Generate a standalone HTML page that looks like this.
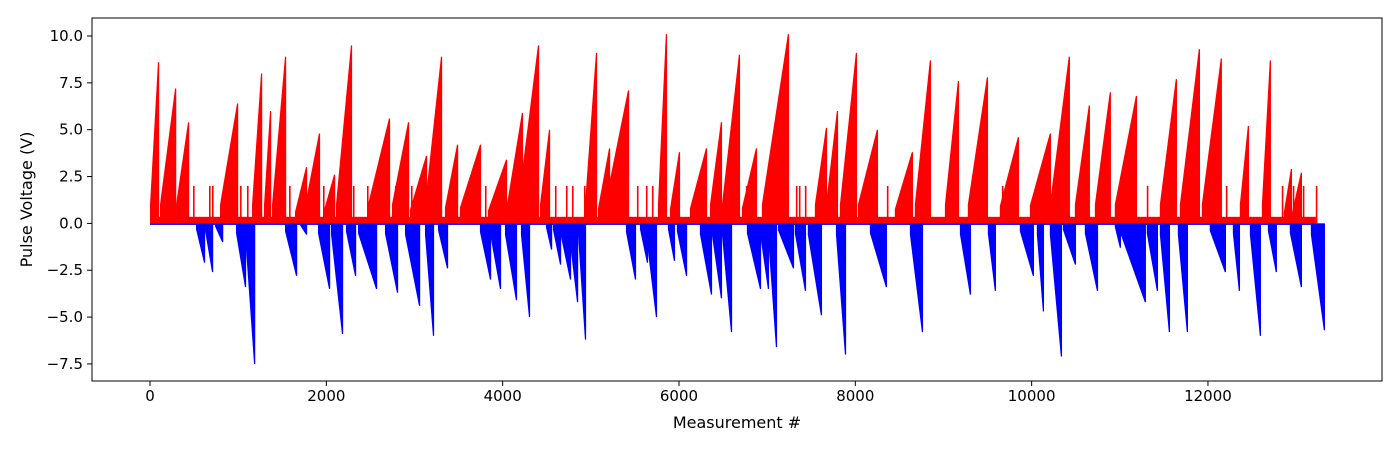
<!DOCTYPE html>
<html><head><meta charset="utf-8"><style>
html,body{margin:0;padding:0;background:#fff;}
svg text{font-family:"DejaVu Sans","Liberation Sans",sans-serif;fill:#000;}
</style></head><body>
<svg id="chart" width="1400" height="450" xmlns="http://www.w3.org/2000/svg">
<rect width="1400" height="450" fill="#fff"/>
<g id="marks"></g>
<g id="axes"></g>
</svg>
<script>
// ramps: [startMeasurement, endMeasurement, peakVoltage]
const posRamps=[[0,90,8.6],[113,284,7.2],[295,431,5.4],[794,987,6.4],[1157,1259,8.0],[1293,1361,6.0],[1384,1531,8.9],[1644,1769,3.0],[1758,1916,4.8],[1962,2087,2.6],[2109,2279,9.5],[2472,2710,5.6],[2744,2926,5.4],[2948,3130,3.6],[3119,3300,8.9],[3345,3482,4.2],[3515,3742,4.2],[3833,4037,3.4],[4048,4218,5.9],[4173,4400,9.5],[4423,4525,5.0],[4933,5058,9.1],[5081,5206,4.0],[5160,5421,7.1],[5761,5851,10.1],[5897,5999,3.8],[6124,6305,4.0],[6351,6475,5.4],[6487,6679,9.0],[6713,6872,4.0],[6940,7235,10.1],[7541,7666,5.1],[7666,7791,6.0],[7825,8006,9.1],[8029,8244,5.0],[8448,8641,3.8],[8675,8845,8.7],[9016,9163,7.6],[9276,9492,7.8],[9639,9843,4.6],[9980,10206,4.8],[10206,10421,8.9],[10490,10648,6.3],[10717,10886,7.0],[10943,11182,6.8],[11454,11635,7.7],[11681,11896,9.3],[11930,12145,8.8],[12361,12452,5.2],[12611,12701,8.7],[12860,12940,2.9],[12951,13053,2.7]];
const negRamps=[[522,612,-2.1],[624,703,-2.6],[737,817,-1.0],[975,1077,-3.4],[1077,1180,-7.5],[1531,1656,-2.8],[1701,1769,-0.6],[1905,2030,-3.5],[2053,2177,-5.9],[2222,2325,-2.8],[2359,2563,-3.5],[2665,2801,-3.7],[2892,3051,-4.4],[3119,3209,-6.0],[3266,3368,-2.4],[3742,3856,-3.0],[3856,3969,-3.5],[4026,4150,-4.1],[4207,4298,-5.0],[4491,4548,-1.4],[4570,4650,-2.2],[4650,4763,-3.0],[4752,4843,-4.2],[4854,4933,-6.2],[5398,5500,-3.0],[5557,5636,-2.1],[5625,5738,-5.0],[5874,5942,-2.0],[5976,6079,-2.8],[6237,6362,-3.8],[6373,6475,-4.0],[6487,6589,-5.8],[6770,6918,-3.5],[6918,7008,-3.5],[7008,7099,-6.6],[7122,7292,-2.4],[7314,7428,-3.6],[7461,7609,-4.9],[7780,7882,-7.0],[8165,8346,-3.4],[8619,8755,-5.8],[9186,9299,-3.8],[9503,9582,-3.6],[9866,10013,-2.8],[10059,10127,-4.7],[10206,10331,-7.1],[10354,10490,-2.2],[10603,10740,-3.6],[10943,11000,-1.3],[11011,11283,-4.2],[11306,11420,-3.6],[11454,11556,-5.8],[11658,11760,-5.8],[12020,12191,-2.6],[12282,12350,-3.6],[12475,12588,-6.0],[12679,12769,-2.6],[12928,13053,-3.4],[13167,13314,-5.7]];
const spikes=[488,669,703,1021,1100,1577,1894,1962,2302,2461,2563,2778,2960,3799,4593,4718,4786,4922,4979,5523,5625,5693,6441,6612,6759,6997,7099,7326,7360,7428,7950,8097,8358,8528,9662,9764,9832,11306,12203,12837,12962,13076,13223];
const spikeValue=2.0;
const baseRange=[0,13223];
const blueRange=[0,13314];
const xTicks=[0,2000,4000,6000,8000,10000,12000];
const yTicks=[-7.5,-5.0,-2.5,0.0,2.5,5.0,7.5,10.0];

const L=92,R=1382,T=18,B=381;
const xMin=-658,xMax=13974,yMin=-8.41,yMax=10.96;
const X=v=>L+(v-xMin)/(xMax-xMin)*(R-L);
const Y=v=>B-(v-yMin)/(yMax-yMin)*(B-T);
const NS="http://www.w3.org/2000/svg";
const marks=document.getElementById('marks'),axes=document.getElementById('axes');
function mk(tag,attrs,parent){const e=document.createElementNS(NS,tag);for(const k in attrs)e.setAttribute(k,attrs[k]);parent.appendChild(e);return e;}

// baselines
let b=mk('rect',{x:X(baseRange[0]),y:Y(0.35),width:X(baseRange[1])-X(baseRange[0]),height:Y(0)-Y(0.35),fill:'#ff0000'},marks);


let bb=mk('rect',{x:X(blueRange[0]),y:Y(0),width:X(blueRange[1])-X(blueRange[0]),height:1.5,fill:'#0000ff'},marks);



posRamps.forEach(r=>{
  const p=mk('polygon',{points:`${X(r[0])},${Y(Math.min(1,r[2]*0.2))} ${X(r[0])},${Y(0)} ${X(r[1])+1.2},${Y(0)} ${X(r[1])+1.2},${Y(r[2])} ${X(r[1])},${Y(r[2])}`,fill:'#ff0000'},marks);
  
  
});
negRamps.forEach(r=>{
  const p=mk('polygon',{points:`${X(r[0])},${Y(0)} ${X(r[0])},${Y(Math.max(-0.6,r[2]*0.15))} ${X(r[1])},${Y(r[2])} ${X(r[1])+1.2},${Y(r[2])} ${X(r[1])+1.2},${Y(0)}`,fill:'#0000ff'},marks);
  
  
});
spikes.forEach(s=>{
  const p=mk('rect',{x:X(s),y:Y(spikeValue),width:1.6,height:Y(0)-Y(spikeValue),fill:'#ff0000'},marks);
  
  
});

// frame
let f=mk('rect',{x:L,y:T,width:R-L,height:B-T,fill:'none',stroke:'#000','stroke-width':1},axes);


xTicks.forEach(t=>{
  const x=X(t);
  mk('line',{x1:x,x2:x,y1:B,y2:B+5,stroke:'#000'},axes);
  const tx=mk('text',{x:x,y:B+20,'text-anchor':'middle','font-size':'15'},axes);
  tx.textContent=t;
  
  
});
yTicks.forEach(t=>{
  const y=Y(t);
  mk('line',{x1:L-5,x2:L,y1:y,y2:y,stroke:'#000'},axes);
  const tx=mk('text',{x:L-9,y:y+5,'text-anchor':'end','font-size':'15'},axes);
  tx.textContent=(t<0?'\u2212':'')+Math.abs(t).toFixed(1);
  
  
});
let xl=mk('text',{x:(L+R)/2,y:428,'text-anchor':'middle','font-size':'16'},axes);
xl.textContent='Measurement #';


let yl=mk('text',{x:0,y:0,'text-anchor':'middle','font-size':'16',transform:`translate(32,${(T+B)/2}) rotate(-90)`},axes);
yl.textContent='Pulse Voltage (V)';


</script>
</body></html>
